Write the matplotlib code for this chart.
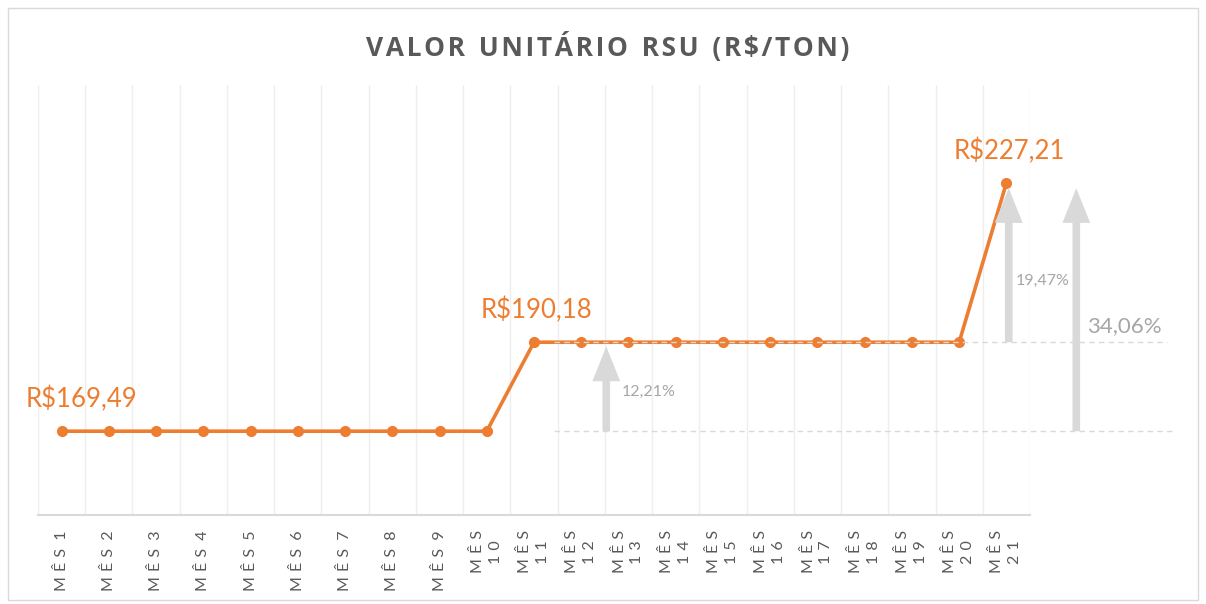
import matplotlib.pyplot as plt
from matplotlib.patches import Rectangle

plt.rcParams['font.family'] = ['Lato', 'DejaVu Sans']

months = ["MÊS %d" % i for i in range(1, 22)]
values = [169.49] * 10 + [190.18] * 10 + [227.21]
label_idx = [0, 10, 20]
label_text = ["R$169,49", "R$190,18", "R$227,21"]
pct_text = ["12,21%", "19,47%", "34,06%"]
title = "VALOR UNITÁRIO RSU (R$/TON)"

orange = "#ED7D31"
arrow_grey = "#D9D9D9"
text_grey = "#A6A6A6"


def spaced(lbl):
    # letter-spaced tick label, long ones wrapped on two lines
    word, num = lbl.split(" ")
    gap = " \u200a"
    word = gap.join(word)
    num = gap.join(num)
    if len(lbl.split(" ")[1]) > 1:
        return word + "\n" + num
    return word + "  " + num


fig = plt.figure(figsize=(12.06, 6.04), dpi=100)
fig.patches.append(Rectangle((8 / 1206, 4 / 604), 1190 / 1206, 592 / 604,
                             transform=fig.transFigure, fill=False,
                             edgecolor="#D9D9D9", lw=1))
ax = fig.add_axes([38 / 1206, 89 / 604, 992 / 1206, 430 / 604])

x = list(range(len(months)))
ax.plot(x, values, color=orange, lw=2.6, marker="o", markersize=7, zorder=3)

ax.set_xlim(-0.5, len(months) - 0.5)
ax.set_ylim(150, 250)
for k in range(len(months) + 1):
    ax.axvline(k - 0.5, color="#EEEEEE", lw=1, zorder=0)

ax.set_xticks(x)
ax.set_xticklabels([spaced(m) for m in months], rotation=90, fontsize=11.5,
                   color="#595959", va="top", ha="center", linespacing=1.35)
ax.tick_params(axis="x", length=0, pad=11)
ax.set_yticks([])
for s in ["top", "left", "right"]:
    ax.spines[s].set_visible(False)
ax.spines["bottom"].set_color("#D9D9D9")
ax.spines["bottom"].set_linewidth(1.5)

# data labels
offsets = [(14, 23), (2, 23), (2, 23)]
for i, t, off in zip(label_idx, label_text, offsets):
    ax.annotate(t, (x[i], values[i]), xytext=off, textcoords="offset points",
                ha="center", va="center", color=orange, fontsize=18.5)

# reference dashed lines
ax.plot([10.43, 23.4], [values[10], values[10]], ls=(0, (4, 3)), color="#D9D9D9",
        lw=1, clip_on=False, zorder=4)
ax.plot([10.43, 23.6], [values[0], values[0]], ls=(0, (4, 3)), color="#D9D9D9",
        lw=1, clip_on=False, zorder=4)

# growth arrows
arrows = [(11.53, values[0], values[10] - 1.0),
          (20.05, values[10], values[20] - 1.2),
          (21.48, values[0], values[20] - 1.2)]
for ax_x, y0, y1 in arrows:
    ax.annotate("", xy=(ax_x, y1), xytext=(ax_x, y0), annotation_clip=False,
                arrowprops=dict(width=5.5, headwidth=20, headlength=25,
                                color=arrow_grey, shrink=0, lw=0))

ax.text(11.85, 178.7, pct_text[0], color=text_grey, fontsize=11.5, ha="left", va="center",
        clip_on=False)
ax.text(20.2, 204.5, pct_text[1], color=text_grey, fontsize=11.5, ha="left", va="center",
        clip_on=False)
ax.text(21.7, 194.0, pct_text[2], color=text_grey, fontsize=16, ha="left", va="center",
        clip_on=False)

fig.text(0.504, 0.922, "  ".join("\u200a".join(w) for w in title.split(" ")),
         ha="center", va="center", fontsize=19, fontweight="bold", color="#595959",
         family=["Open Sans", "DejaVu Sans"])

fig.savefig("out.png", dpi=100)
